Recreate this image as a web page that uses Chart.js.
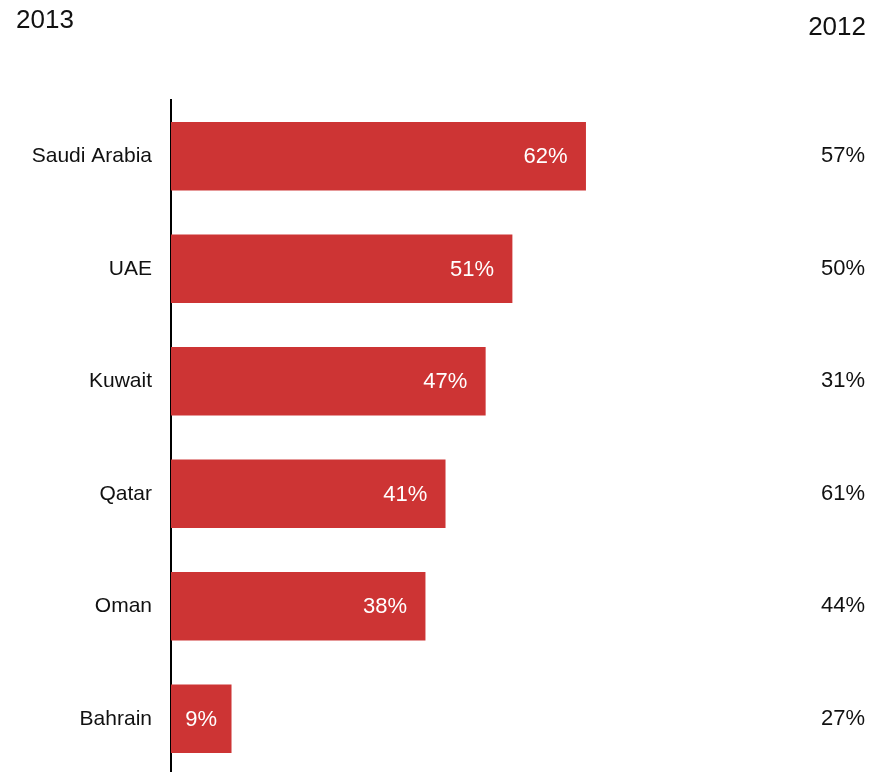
<!DOCTYPE html>
<html lang="en">
<head>
    <meta charset="UTF-8">
    <title>2013 vs 2012</title>
    <script src="https://cdn.jsdelivr.net/npm/chart.js"></script>
    <style>
        html, body { margin: 0; padding: 0; background: #fff; overflow: hidden; }
        canvas { display: block; }
    </style>
</head>
<body>
    <canvas id="gcc-chart" width="871" height="775"></canvas>

    <script>
        const countries = ['Saudi Arabia', 'UAE', 'Kuwait', 'Qatar', 'Oman', 'Bahrain'];
        const values2013 = [62, 51, 47, 41, 38, 9];
        const values2012 = [57, 50, 31, 61, 44, 27];
        const yearLeft = '2013';
        const yearRight = '2012';

        const FONT = '"Liberation Sans", Arial, Helvetica, sans-serif';
        const BAR_RED = '#cd3434';

        // labels inside the bars, the 2012 column on the right and both year headers
        const annotate = {
            id: 'annotate',
            afterDatasetsDraw(chart) {
                const ctx = chart.ctx;
                const meta = chart.getDatasetMeta(0);
                ctx.save();
                ctx.textBaseline = 'middle';
                ctx.font = '22px ' + FONT;
                meta.data.forEach((bar, i) => {
                    const txt = values2013[i] + '%';
                    const w = ctx.measureText(txt).width;
                    const left = bar.base, right = bar.x;
                    ctx.fillStyle = '#fff';
                    if (right - left < w + 36) {
                        ctx.textAlign = 'center';
                        ctx.fillText(txt, (left + right) / 2, bar.y + 1);
                    } else {
                        ctx.textAlign = 'right';
                        ctx.fillText(txt, right - 18, bar.y + 1);
                    }
                    ctx.fillStyle = '#111';
                    ctx.textAlign = 'right';
                    ctx.fillText(values2012[i] + '%', 865, bar.y);
                });
                ctx.font = '26px ' + FONT;
                ctx.textAlign = 'left';
                ctx.fillText(yearLeft, 16, 21);
                ctx.textAlign = 'right';
                ctx.fillText(yearRight, 866, 28);
                ctx.restore();
            }
        };

        const ctx = document.getElementById('gcc-chart').getContext('2d');
        new Chart(ctx, {
            type: 'bar',
            data: {
                labels: countries,
                datasets: [{
                    label: yearLeft,
                    data: values2013,
                    backgroundColor: BAR_RED,
                    borderWidth: 0,
                    barThickness: 68
                }]
            },
            options: {
                responsive: false,
                indexAxis: 'y',
                animation: false,
                layout: { padding: { top: 100, right: 165, bottom: 0, left: 0 } },
                plugins: {
                    legend: { display: false },
                    tooltip: { enabled: false }
                },
                scales: {
                    x: {
                        display: false,
                        min: 0,
                        max: 80
                    },
                    y: {
                        afterFit(scale) {
                            scale.width = 171;
                            // no extra room above/below for the tick labels
                            scale.paddingTop = 0;
                            scale.paddingBottom = 0;
                        },
                        grid: { display: false, drawTicks: false },
                        border: { display: true, color: '#000', width: 2 },
                        ticks: {
                            padding: 19,
                            color: '#111',
                            font: { family: FONT, size: 21 }
                        }
                    }
                }
            },
            plugins: [annotate]
        });
    </script>
</body>
</html>
